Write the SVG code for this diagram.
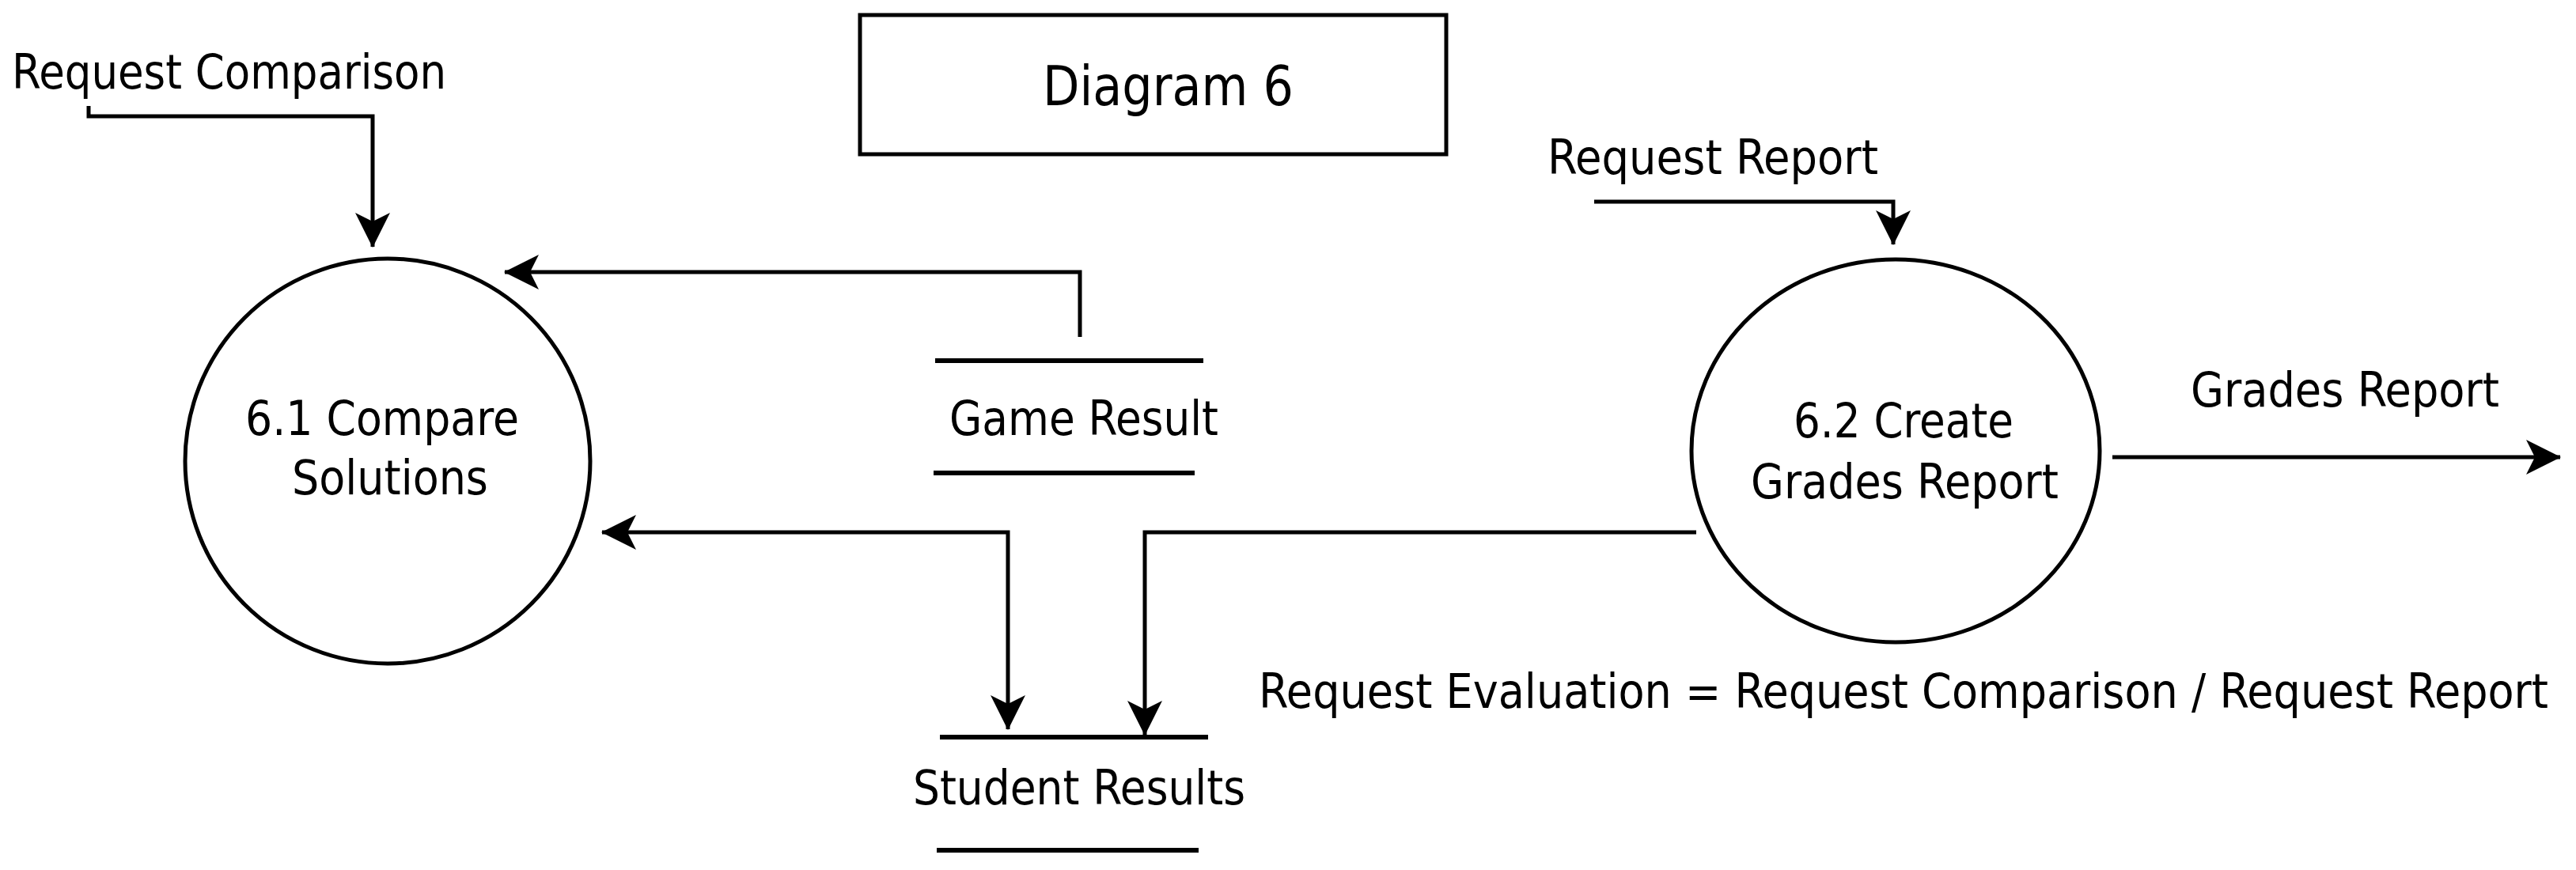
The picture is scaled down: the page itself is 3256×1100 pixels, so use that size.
<svg xmlns="http://www.w3.org/2000/svg" width="3256" height="1100" viewBox="0 0 3256 1100">
  <style>
    .t { font-family: "DejaVu Sans Condensed", "DejaVu Sans", sans-serif; font-size: 61px; fill: #000; }
    .big { font-size: 70px; }
    .ln { fill: none; stroke: #000; stroke-width: 5; }
    .shape { fill: #fff; stroke: #000; stroke-width: 5; }
    .store { stroke: #000; stroke-width: 6; }
  </style>
  <defs>
    <marker id="arrow" markerUnits="userSpaceOnUse" viewBox="0 0 44 44" refX="43" refY="22" markerWidth="44" markerHeight="44" orient="auto-start-reverse">
      <path d="M0,0 L44,22 L0,44 L11,22 Z" fill="#000"/>
    </marker>
  </defs>
  <rect width="3256" height="1100" fill="#fff"/>

  <g id="connectors">
    <path class="ln" d="M112,134 V147 H471 V312" marker-end="url(#arrow)"/>
    <path class="ln" d="M1365,426 V344 H638" marker-end="url(#arrow)"/>
    <path class="ln" d="M761,673 H1274 V922" marker-start="url(#arrow)" marker-end="url(#arrow)"/>
    <path class="ln" d="M2144,673 H1447 V929" marker-end="url(#arrow)"/>
    <path class="ln" d="M2015,255 H2393 V309" marker-end="url(#arrow)"/>
    <path class="ln" d="M2670,578 H3236" marker-end="url(#arrow)"/>
  </g>

  <g id="diagram-title">
    <rect class="shape" x="1087" y="19" width="741" height="176" stroke-width="6"/>
    <text class="t big" x="1318" y="133" textLength="317" lengthAdjust="spacingAndGlyphs">Diagram 6</text>
  </g>

  <g id="process-6-1">
    <ellipse class="shape" cx="490" cy="583" rx="256" ry="256"/>
    <text class="t" x="310" y="550" textLength="346" lengthAdjust="spacingAndGlyphs">6.1 Compare</text>
    <text class="t" x="369" y="625" textLength="248" lengthAdjust="spacingAndGlyphs">Solutions</text>
  </g>

  <g id="process-6-2">
    <ellipse class="shape" cx="2396" cy="570" rx="258" ry="242"/>
    <text class="t" x="2267" y="553" textLength="278" lengthAdjust="spacingAndGlyphs">6.2 Create</text>
    <text class="t" x="2213" y="630" textLength="389" lengthAdjust="spacingAndGlyphs">Grades Report</text>
  </g>

  <g id="store-game-result">
    <line class="store" x1="1182" y1="456" x2="1521" y2="456"/>
    <line class="store" x1="1180" y1="598" x2="1510" y2="598"/>
    <text class="t" x="1200" y="550" textLength="340" lengthAdjust="spacingAndGlyphs">Game Result</text>
  </g>

  <g id="store-student-results">
    <line class="store" x1="1188" y1="932" x2="1527" y2="932"/>
    <line class="store" x1="1184" y1="1075" x2="1515" y2="1075"/>
    <text class="t" x="1154" y="1017" textLength="420" lengthAdjust="spacingAndGlyphs">Student Results</text>
  </g>

  <g id="labels">
    <text class="t" x="15" y="112" textLength="549" lengthAdjust="spacingAndGlyphs">Request Comparison</text>
    <text class="t" x="1956" y="220" textLength="418" lengthAdjust="spacingAndGlyphs">Request Report</text>
    <text class="t" x="2769" y="514" textLength="390" lengthAdjust="spacingAndGlyphs">Grades Report</text>
    <text class="t" x="1591" y="895" textLength="1630" lengthAdjust="spacingAndGlyphs">Request Evaluation = Request Comparison / Request Report</text>
  </g>
</svg>
